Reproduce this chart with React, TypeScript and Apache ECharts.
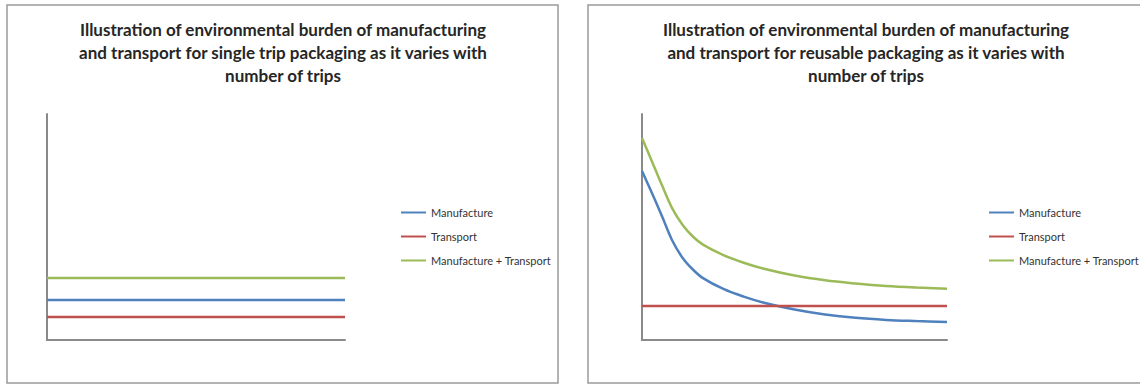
import React, { useEffect, useRef } from "react";
import * as echarts from "echarts";

const seriesNames = ["Manufacture", "Transport", "Manufacture + Transport"];
const seriesColors = ["#4F81BD", "#C0504D", "#9BBB59"];

const singleTitle =
  "Illustration of environmental burden of manufacturing\nand transport for single trip packaging as it varies with\nnumber of trips";
const reusableTitle =
  "Illustration of environmental burden of manufacturing\nand transport for reusable packaging as it varies with\nnumber of trips";

// Single trip packaging (flat lines)
const singleTrips = [0, 30];
const singleManufacture = [1.77, 1.77];
const singleTransport = [1.02, 1.02];
const singleTotal = [2.74, 2.74];

// Reusable packaging
const reusableTrips = [0, 1, 2, 3, 4, 5, 6, 8, 10, 12, 15, 18, 21, 24, 27, 30];
const reusableManufacture = [7.48, 6.48, 5.44, 4.38, 3.63, 3.12, 2.74, 2.26, 1.92, 1.65, 1.35, 1.13, 0.98, 0.89, 0.84, 0.8];
const reusableTransportTrips = [0, 30];
const reusableTransport = [1.5, 1.5];
const reusableTotal = [8.94, 7.88, 6.81, 5.8, 5.09, 4.58, 4.22, 3.76, 3.42, 3.15, 2.85, 2.64, 2.5, 2.39, 2.32, 2.27];

const zip = (xs: number[], ys: number[]) => xs.map((x, i) => [x, ys[i]]);

export default function App() {
  const ref = useRef<HTMLDivElement>(null);
  useEffect(() => {
    if (!ref.current) return;
    const chart = echarts.init(ref.current, null, { renderer: "svg" });
    const axisLine = { show: true, lineStyle: { color: "#8a8a8a", width: 2 } };
    const xAxisBase = {
      type: "value" as const,
      min: 0,
      max: 30,
      axisLine,
      axisTick: { show: false },
      axisLabel: { show: false },
      splitLine: { show: false },
    };
    const yAxisBase = {
      type: "value" as const,
      min: 0,
      max: 10,
      axisLine,
      axisTick: { show: false },
      axisLabel: { show: false },
      splitLine: { show: false },
    };
    const lineSeries = (name: string, idx: number, data: number[][], smooth: boolean) => ({
      name,
      type: "line" as const,
      xAxisIndex: idx,
      yAxisIndex: idx,
      data,
      smooth: smooth ? 0.35 : false,
      symbol: "none",
      color: seriesColors[seriesNames.indexOf(name)],
      lineStyle: { width: 2.5, color: seriesColors[seriesNames.indexOf(name)] },
    });
    const legendBase = {
      orient: "vertical" as const,
      data: seriesNames,
      icon: "rect",
      itemWidth: 25,
      itemHeight: 2,
      itemGap: 13,
      selectedMode: false,
      textStyle: { fontFamily: "Lato", fontSize: 11, color: "#333" },
    };
    const titleFont = "bold 17px Lato";
    chart.setOption({
      animation: false,
      backgroundColor: "#ffffff",
      grid: [
        { left: 47, top: 114, width: 298, height: 226 },
        { left: 642, top: 114, width: 305, height: 226 },
      ],
      xAxis: [{ ...xAxisBase, gridIndex: 0 }, { ...xAxisBase, gridIndex: 1 }],
      yAxis: [{ ...yAxisBase, gridIndex: 0 }, { ...yAxisBase, gridIndex: 1 }],
      legend: [
        { ...legendBase, left: 396, top: 202 },
        { ...legendBase, left: 984, top: 202 },
      ],
      graphic: [
        {
          type: "rect",
          shape: { x: 7, y: 5, width: 551, height: 378 },
          style: { fill: "none", stroke: "#9a9a9a", lineWidth: 1.5 },
          silent: true,
        },
        {
          type: "rect",
          shape: { x: 588, y: 5, width: 560, height: 378 },
          style: { fill: "none", stroke: "#9a9a9a", lineWidth: 1.5 },
          silent: true,
        },
        {
          type: "text",
          x: 283,
          y: 18,
          style: {
            text: singleTitle,
            font: titleFont,
            fill: "#262626",
            textAlign: "center",
            textVerticalAlign: "top",
            lineHeight: 23,
          },
        },
        {
          type: "text",
          x: 866,
          y: 18,
          style: {
            text: reusableTitle,
            font: titleFont,
            fill: "#262626",
            textAlign: "center",
            textVerticalAlign: "top",
            lineHeight: 23,
          },
        },
      ],
      series: [
        lineSeries("Manufacture", 0, zip(singleTrips, singleManufacture), false),
        lineSeries("Transport", 0, zip(singleTrips, singleTransport), false),
        lineSeries("Manufacture + Transport", 0, zip(singleTrips, singleTotal), false),
        lineSeries("Manufacture", 1, zip(reusableTrips, reusableManufacture), true),
        lineSeries("Transport", 1, zip(reusableTransportTrips, reusableTransport), false),
        lineSeries("Manufacture + Transport", 1, zip(reusableTrips, reusableTotal), true),
      ],
    });
    return () => chart.dispose();
  }, []);
  return (
    <div
      ref={ref}
      style={{ position: "absolute", left: 0, top: 0, width: 1140, height: 385 }}
    />
  );
}
